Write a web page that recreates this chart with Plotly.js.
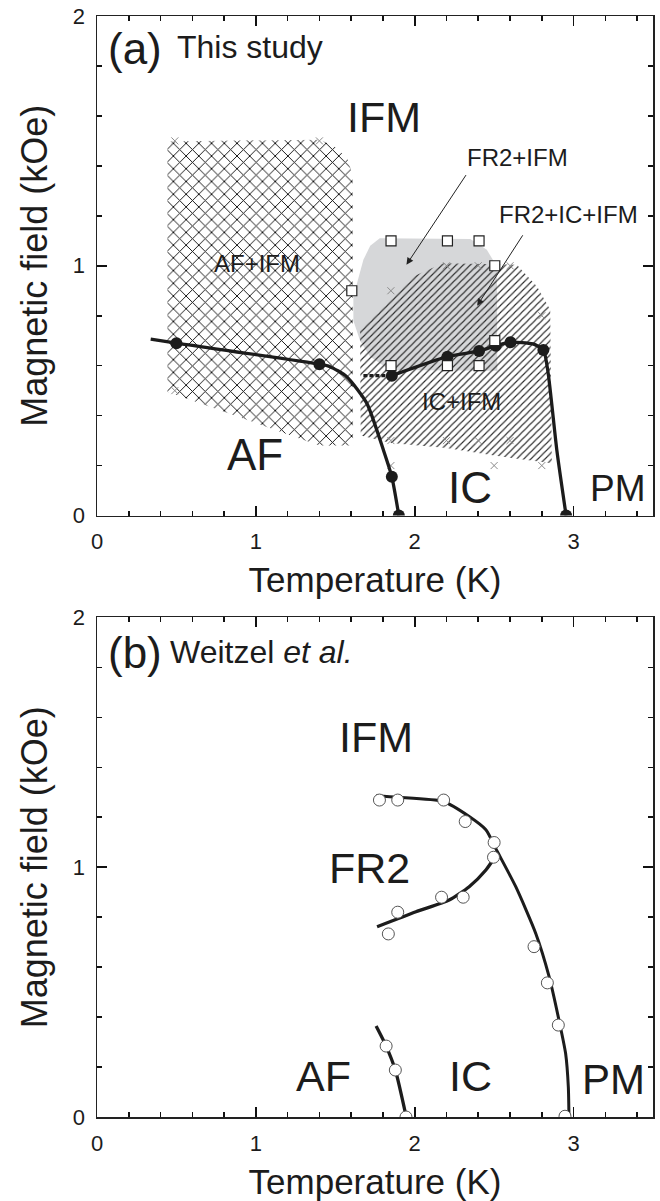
<!DOCTYPE html>
<html><head><meta charset="utf-8">
<script src="https://cdn.plot.ly/plotly-3.0.1.min.js"></script>
<style>html,body{margin:0;padding:0;background:#fff}#chart{width:660px;height:1201px}</style>
</head><body><div id="chart"></div>
<script>
// ===== Panel (a): This study =====
// AF / (AF+IFM) boundary line
const aAfLineT = [0.338, 0.50, 1.40, 1.467, 1.572, 1.698, 1.803, 1.856, 1.90];
const aAfLineH = [0.706, 0.69, 0.606, 0.596, 0.556, 0.45, 0.262, 0.155, 0.0];
// IC / IFM and IC / PM boundary line
const aIcLineT = [1.856, 2.206, 2.405, 2.51, 2.603, 2.744, 2.81, 2.84, 2.895, 2.953];
const aIcLineH = [0.56, 0.636, 0.659, 0.68, 0.694, 0.687, 0.663, 0.57, 0.26, 0.0];
// dashed extension
const aDashT = [1.677, 1.856];
const aDashH = [0.56, 0.56];
// filled circles
const aDotT = [0.50, 1.40, 1.856, 1.90, 1.856, 2.206, 2.405, 2.51, 2.603, 2.81, 2.953];
const aDotH = [0.69, 0.606, 0.155, 0.0, 0.56, 0.636, 0.659, 0.68, 0.694, 0.663, 0.0];
// open squares
const aSqT = [1.604, 1.851, 2.206, 2.405, 2.504, 1.851, 2.206, 2.405, 2.504];
const aSqH = [0.90, 1.10, 1.10, 1.10, 1.00, 0.60, 0.60, 0.60, 0.70];
// small gray crosses
const aCrossT = [0.49, 1.40, 0.49, 1.85, 2.2, 2.4, 2.6, 2.8, 1.85, 2.2, 2.4, 2.6, 1.85, 2.5, 2.8];
const aCrossH = [1.50, 1.50, 0.50, 0.90, 1.0, 1.0, 1.0, 0.8, 0.30, 0.30, 0.30, 0.30, 0.20, 0.20, 0.20];
// AF+IFM region (cross-hatched)
const aAfIfmT = [0.443, 0.443, 1.404, 1.50, 1.575, 1.61, 1.612, 1.40, 0.443];
const aAfIfmH = [0.496, 1.498, 1.505, 1.475, 1.43, 1.36, 0.28, 0.28, 0.496];
// FR2+IFM region (gray)
const aFr2T = [1.78, 2.35, 2.454, 2.517, 2.52, 1.845, 1.72, 1.656, 1.614, 1.614, 1.677, 1.72, 1.78];
const aFr2H = [1.11, 1.107, 1.064, 0.997, 0.58, 0.583, 0.636, 0.70, 0.78, 0.877, 1.024, 1.08, 1.11];
// IC+IFM region (hatched)
const aIcIfmT = [1.656, 1.99, 2.18, 2.643, 2.77, 2.853, 2.863, 2.5, 2.2, 1.85, 1.66, 1.656];
const aIcIfmH = [0.743, 0.957, 1.01, 1.004, 0.917, 0.824, 0.209, 0.24, 0.27, 0.29, 0.32, 0.743];

// ===== Panel (b): Weitzel et al. =====
const bUpperT = [1.757, 1.893, 2.18, 2.343, 2.448, 2.52, 2.636, 2.762, 2.846, 2.908, 2.95, 2.967, 2.971];
const bUpperH = [1.286, 1.28, 1.263, 1.203, 1.15, 1.063, 0.922, 0.735, 0.562, 0.388, 0.254, 0.12, 0.0];
const bFr2T = [1.763, 2.008, 2.217, 2.343, 2.448, 2.521];
const bFr2H = [0.762, 0.822, 0.869, 0.922, 0.989, 1.056];
const bAfT = [1.757, 1.82, 1.878, 1.945];
const bAfH = [0.364, 0.284, 0.188, 0.005];
const bPtsT = [1.778, 1.893, 2.182, 2.318, 2.50, 2.496, 2.169, 2.305, 1.893, 1.834, 2.751, 2.835, 2.904, 2.946, 1.82, 1.878, 1.945];
const bPtsH = [1.269, 1.269, 1.269, 1.183, 1.099, 1.04, 0.88, 0.88, 0.82, 0.733, 0.682, 0.537, 0.368, 0.003, 0.284, 0.188, 0.0];

// axis ticks
const xMajorStep = 1, xMinorStep = 0.2;
const yMajorStep = 1, yMinorStep = 0.2;

const FONT = 'Liberation Sans, Arial, Helvetica, sans-serif';
const INK = '#1c1c1c';
const TICK = '#111111';

const traces = [
  {x: aAfIfmT, y: aAfIfmH, xaxis: 'x', yaxis: 'y', mode: 'lines', fill: 'toself', line: {width: 0, color: 'rgba(0,0,0,0)'},
   fillcolor: 'white', fillpattern: {shape: 'x', size: 9, solidity: 0.2, fgcolor: '#111', bgcolor: 'white'}, hoverinfo: 'skip'},
  {x: aFr2T, y: aFr2H, xaxis: 'x', yaxis: 'y', mode: 'lines', fill: 'toself', line: {width: 0, color: 'rgba(0,0,0,0)'},
   fillcolor: '#d6d7d9', hoverinfo: 'skip'},
  {x: aIcIfmT, y: aIcIfmH, xaxis: 'x', yaxis: 'y', mode: 'lines', fill: 'toself', line: {width: 0, color: 'rgba(0,0,0,0)'},
   fillcolor: 'rgba(0,0,0,0)', fillpattern: {shape: '/', size: 5, solidity: 0.22, fgcolor: '#2a2a2a', bgcolor: 'rgba(0,0,0,0)'}, hoverinfo: 'skip'},
  {x: aCrossT, y: aCrossH, xaxis: 'x', yaxis: 'y', mode: 'markers', marker: {symbol: 'x-thin', size: 7, line: {width: 1, color: '#8a8a8a'}}},
  {x: aAfLineT, y: aAfLineH, xaxis: 'x', yaxis: 'y', mode: 'lines', line: {color: INK, width: 3.3, shape: 'spline', smoothing: 0.6}},
  {x: aIcLineT, y: aIcLineH, xaxis: 'x', yaxis: 'y', mode: 'lines', line: {color: INK, width: 3.3, shape: 'spline', smoothing: 0.6}},
  {x: aDashT, y: aDashH, xaxis: 'x', yaxis: 'y', mode: 'lines', line: {color: INK, width: 3.3, dash: '4px,2px'}},
  {x: aDotT, y: aDotH, xaxis: 'x', yaxis: 'y', mode: 'markers', marker: {symbol: 'circle', size: 12, color: INK, line: {width: 0}}},
  {x: aSqT, y: aSqH, xaxis: 'x', yaxis: 'y', mode: 'markers', marker: {symbol: 'square', size: 10, color: 'white', line: {width: 1.2, color: '#222'}}},

  {x: bUpperT, y: bUpperH, xaxis: 'x2', yaxis: 'y2', mode: 'lines', line: {color: INK, width: 3, shape: 'spline', smoothing: 0.6}},
  {x: bFr2T, y: bFr2H, xaxis: 'x2', yaxis: 'y2', mode: 'lines', line: {color: INK, width: 3.3, shape: 'spline', smoothing: 0.6}},
  {x: bAfT, y: bAfH, xaxis: 'x2', yaxis: 'y2', mode: 'lines', line: {color: INK, width: 3.3, shape: 'spline', smoothing: 0.6}},
  {x: bPtsT, y: bPtsH, xaxis: 'x2', yaxis: 'y2', mode: 'markers', marker: {symbol: 'circle', size: 12, color: 'white', line: {width: 1, color: '#555'}}}
];

function baseAxis(range, step, minorStep, title, size) {
  return {
    range: range, tickmode: 'linear', tick0: 0, dtick: step,
    ticks: 'inside', ticklen: 10, tickwidth: 1.6, tickcolor: TICK,
    minor: {tickmode: 'linear', tick0: 0, dtick: minorStep, ticks: 'inside', ticklen: 5, tickwidth: 1.6, tickcolor: TICK, showgrid: false},
    showline: true, linecolor: '#222', linewidth: 1.5, mirror: 'allticks', showgrid: false, zeroline: false,
    tickfont: {family: FONT, size: 22, color: INK}, ticklabelstandoff: 6,
    title: {text: title, font: {family: FONT, size: size, color: INK}, standoff: 14}
  };
}
const xa = Object.assign(baseAxis([0, 3.5], xMajorStep, xMinorStep, 'Temperature (K)', 35), {anchor: 'y', domain: [0, 1]});
const ya = Object.assign(baseAxis([0, 2], yMajorStep, yMinorStep, 'Magnetic field (kOe)', 36), {anchor: 'x', domain: [0.5463, 1]});
const xb = Object.assign(baseAxis([0, 3.5], xMajorStep, xMinorStep, 'Temperature (K)', 35), {anchor: 'y2', domain: [0, 1]});
const yb = Object.assign(baseAxis([0, 2], yMajorStep, yMinorStep, 'Magnetic field (kOe)', 36), {anchor: 'x2', domain: [0, 0.4537]});

function lab(text, x, y, size, ax, opts) {
  return Object.assign({text: text, x: x, y: y, xref: ax[0], yref: ax[1], showarrow: false,
    xanchor: 'center', yanchor: 'middle', font: {family: FONT, size: size, color: INK}}, opts || {});
}
const A = ['x', 'y'], B = ['x2', 'y2'];
const annotations = [
  lab('(a)', 0.239, 1.870, 44, A),
  lab('This study', 0.491, 1.874, 32, A, {xanchor: 'left'}),
  lab('IFM', 1.806, 1.595, 43, A),
  lab('FR2+IFM', 2.646, 1.435, 24, A),
  lab('FR2+IC+IFM', 2.966, 1.206, 24, A),
  lab('AF+IFM', 1.010, 1.011, 24, A),
  lab('IC+IFM', 2.295, 0.458, 24, A),
  lab('AF', 0.994, 0.246, 44, A),
  lab('IC', 2.347, 0.112, 44, A),
  lab('PM', 3.281, 0.109, 37, A),
  {x: 1.948, y: 1.004, ax: 2.329, ay: 1.369, xref: 'x', yref: 'y', axref: 'x', ayref: 'y', text: '', showarrow: true,
   arrowhead: 2, arrowsize: 1.4, arrowwidth: 1, arrowcolor: '#222', standoff: 0, startstandoff: 0},
  {x: 2.393, y: 0.84, ax: 2.686, ay: 1.128, xref: 'x', yref: 'y', axref: 'x', ayref: 'y', text: '', showarrow: true,
   arrowhead: 2, arrowsize: 1.4, arrowwidth: 1, arrowcolor: '#222', standoff: 0, startstandoff: 0},
  lab('(b)', 0.239, 1.858, 44, B),
  lab('Weitzel <i>et al.</i>', 0.447, 1.861, 32, B, {xanchor: 'left'}),
  lab('IFM', 1.756, 1.520, 43, B),
  lab('FR2', 1.718, 0.996, 43, B),
  lab('AF', 1.426, 0.164, 43, B),
  lab('IC', 2.354, 0.164, 43, B),
  lab('PM', 3.254, 0.152, 42, B)
];

const layout = {
  width: 660, height: 1201, margin: {l: 97, r: 7, t: 16, b: 84},
  paper_bgcolor: 'white', plot_bgcolor: 'white', showlegend: false,
  font: {family: FONT, color: INK},
  xaxis: xa, yaxis: ya, xaxis2: xb, yaxis2: yb,
  annotations: annotations
};
Plotly.newPlot('chart', traces, layout, {staticPlot: true, displayModeBar: false});
</script>
</body></html>
